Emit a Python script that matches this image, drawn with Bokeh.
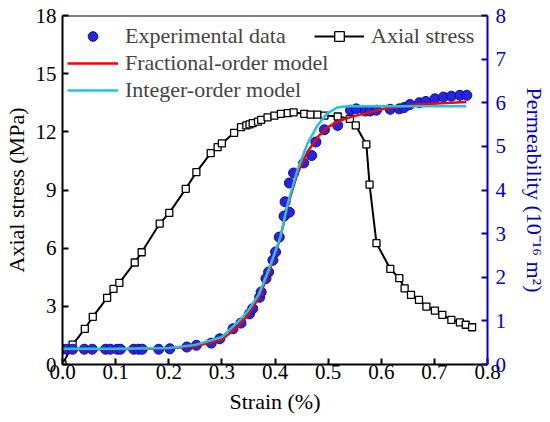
from bokeh.plotting import figure
from bokeh.models import Range1d, LinearAxis, Legend, LegendItem, Span, FixedTicker, NumeralTickFormatter
from bokeh.embed import file_html
from bokeh.resources import INLINE

# ---- data ----
stress_strain = [0, 0.019, 0.042, 0.057, 0.084, 0.096, 0.107, 0.136, 0.149, 0.183, 0.201, 0.232, 0.252,
                 0.279, 0.292, 0.300, 0.323, 0.336, 0.346, 0.352, 0.358, 0.368, 0.374, 0.386, 0.399, 0.411,
                 0.424, 0.435, 0.455, 0.467, 0.480, 0.493, 0.518, 0.541, 0.552, 0.572, 0.578, 0.591, 0.617,
                 0.634, 0.644, 0.656, 0.671, 0.685, 0.701, 0.715, 0.732, 0.748, 0.759, 0.771]
stress = [0, 1.03, 1.84, 2.46, 3.44, 3.90, 4.21, 5.26, 5.79, 7.27, 7.82, 9.06, 9.92,
          10.90, 11.21, 11.40, 11.95, 12.24, 12.33, 12.38, 12.45, 12.53, 12.62, 12.75, 12.84, 12.93,
          12.96, 13.00, 12.93, 12.89, 12.89, 12.84, 12.79, 12.67, 12.33, 11.35, 9.28, 6.26, 4.93,
          4.45, 3.93, 3.59, 3.33, 2.99, 2.78, 2.56, 2.30, 2.17, 2.05, 1.92]

exp_strain = [0, 0.009, 0.019, 0.041, 0.056, 0.081, 0.090, 0.103, 0.109, 0.134, 0.143, 0.150, 0.181, 0.202,
              0.234, 0.252, 0.280, 0.296, 0.321, 0.336, 0.352, 0.358, 0.371, 0.374, 0.383, 0.388, 0.396,
              0.401, 0.408, 0.417, 0.427, 0.419, 0.427, 0.435, 0.454, 0.469, 0.477, 0.493, 0.518, 0.542,
              0.553, 0.570, 0.579, 0.591, 0.617, 0.634, 0.643, 0.654, 0.672, 0.684, 0.701, 0.717, 0.732,
              0.748, 0.761]
exp_perm = [0.35, 0.35, 0.35, 0.35, 0.35, 0.35, 0.35, 0.35, 0.35, 0.35, 0.35, 0.35, 0.35, 0.36,
            0.40, 0.44, 0.49, 0.59, 0.82, 0.95, 1.16, 1.28, 1.54, 1.66, 1.97, 2.12, 2.39,
            2.58, 2.92, 3.40, 3.49, 3.73, 4.16, 4.39, 4.62, 4.79, 5.10, 5.38, 5.48, 5.83,
            5.86, 5.81, 5.81, 5.83, 5.85, 5.86, 5.89, 5.96, 6.00, 6.03, 6.09, 6.13, 6.15,
            6.17, 6.17]

frac_strain = [0.0, 0.10, 0.20, 0.25, 0.30, 0.33, 0.35, 0.37, 0.39, 0.41, 0.424, 0.442, 0.461, 0.480,
               0.498, 0.517, 0.542, 0.604, 0.667, 0.760]
frac_perm = [0.35, 0.35, 0.37, 0.42, 0.57, 0.87, 1.15, 1.54, 2.16, 2.90, 3.65, 4.37, 4.87, 5.21,
             5.43, 5.56, 5.67, 5.86, 5.96, 6.02]

int_strain = [0.0, 0.10, 0.20, 0.25, 0.30, 0.33, 0.35, 0.37, 0.39, 0.41, 0.424, 0.442, 0.461, 0.480,
              0.498, 0.517, 0.536, 0.60, 0.76]
int_perm = [0.36, 0.36, 0.38, 0.45, 0.63, 0.97, 1.24, 1.62, 2.23, 2.92, 3.69, 4.45, 5.06, 5.48,
            5.75, 5.89, 5.92, 5.92, 5.92]

x_ticks = [0.0, 0.1, 0.2, 0.3, 0.4, 0.5, 0.6, 0.7, 0.8]
y_ticks = [0, 3, 6, 9, 12, 15, 18]
perm_ticks = [0, 1, 2, 3, 4, 5, 6, 7, 8]

FONT = "Liberation Serif"
BLUE = "#0000CC"

p = figure(width=550, height=422, output_backend="svg", toolbar_location=None,
           x_range=Range1d(0, 0.8), y_range=Range1d(0, 18),
           min_border_left=60, min_border_right=62, min_border_top=15, min_border_bottom=58)
p.extra_y_ranges = {"perm": Range1d(0, 8)}
p.grid.visible = False
p.outline_line_color = None
p.background_fill_color = "white"
p.border_fill_color = "white"

def style_axis(ax, color):
    ax.axis_line_color = color
    ax.axis_line_width = 2
    ax.major_tick_line_color = color
    ax.major_tick_line_width = 2
    ax.major_tick_in = 6
    ax.major_tick_out = 0
    ax.minor_tick_line_color = None
    ax.major_label_text_font = FONT
    ax.major_label_text_font_size = "21px"
    ax.major_label_text_font_style = "normal"
    ax.major_label_text_color = color
    ax.axis_label_text_font = FONT
    ax.axis_label_text_font_size = "22px"
    ax.axis_label_text_font_style = "normal"
    ax.axis_label_text_color = color

xa = p.xaxis[0]
style_axis(xa, "black")
xa.ticker = FixedTicker(ticks=x_ticks)
xa.formatter = NumeralTickFormatter(format="0.0")
xa.axis_label = "Strain (%)"
xa.major_label_standoff = 0
xa.axis_label_standoff = 7

ya = p.yaxis[0]
style_axis(ya, "black")
ya.ticker = FixedTicker(ticks=y_ticks)
ya.axis_label = "Axial stress (MPa)"
ya.major_label_standoff = 6
ya.axis_label_standoff = 4

ra = LinearAxis(y_range_name="perm", axis_label="Permeability (10\u207b\u00b9\u2076 m\u00b2)")
style_axis(ra, BLUE)
ra.ticker = FixedTicker(ticks=perm_ticks)
ra.major_label_standoff = 8
ra.axis_label_standoff = 13
p.add_layout(ra, "right")

p.add_layout(Span(location=18, dimension="width", line_color="black", line_width=2))

# axial stress
r_sl = p.line(stress_strain, stress, line_color="black", line_width=2)
r_sq = p.scatter(stress_strain, stress, marker="square", size=7, fill_color="white",
                 line_color="black", line_width=1.3)

# experimental permeability
r_exp = p.scatter(exp_strain, exp_perm, y_range_name="perm", marker="circle", size=10,
                  fill_color="#2626E0", line_color="#0A0AA8", line_width=1)

r_frac = p.line(frac_strain, frac_perm, y_range_name="perm", line_color="#FF0000", line_width=2.5)
r_int = p.line(int_strain, int_perm, y_range_name="perm", line_color="#1EC3E6", line_width=2.5)

def mk_legend(items, loc):
    lg = Legend(items=items, location=loc, orientation="vertical")
    lg.label_text_font = FONT
    lg.label_text_font_size = "22px"
    lg.label_height = 24
    lg.glyph_height = 24
    lg.glyph_width = 51
    lg.label_standoff = 7
    lg.spacing = 1
    lg.padding = 0
    lg.margin = 0
    lg.border_line_color = None
    lg.background_fill_alpha = 0
    return lg

lg1 = mk_legend([LegendItem(label="Experimental data", renderers=[r_exp]),
                 LegendItem(label="Fractional-order model", renderers=[r_frac]),
                 LegendItem(label="Integer-order model", renderers=[r_int])], (5, 261))
lg2 = mk_legend([LegendItem(label="Axial stress", renderers=[r_sl, r_sq])], (252, 315))
lg2.glyph_width = 50
p.add_layout(lg1)
p.add_layout(lg2)

open("out.html", "w").write(file_html(p, INLINE))
